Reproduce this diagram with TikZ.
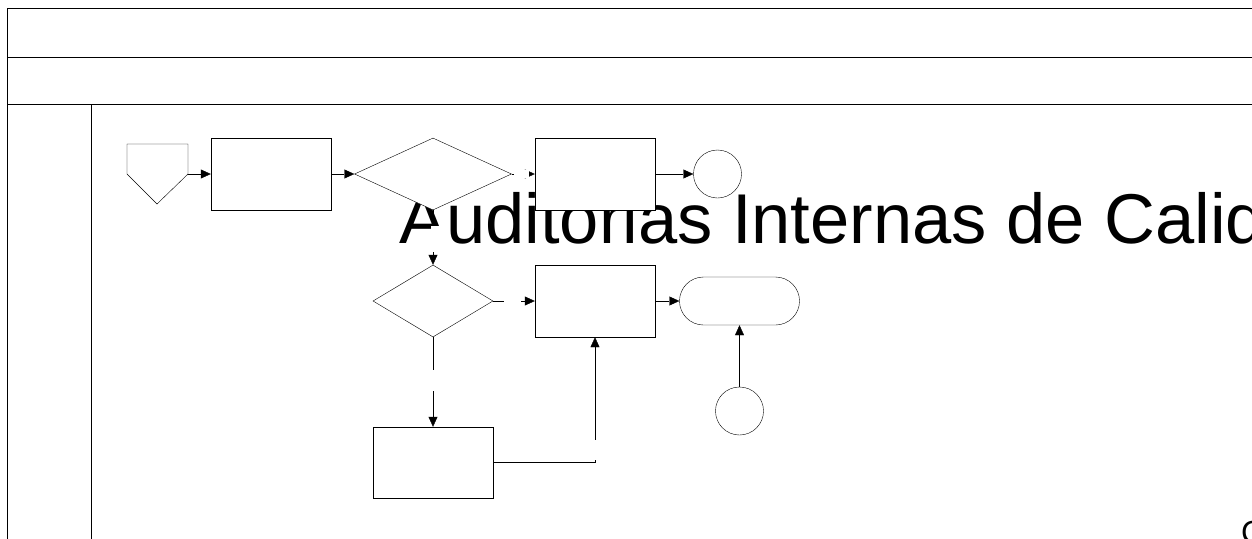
\documentclass[tikz,border=0pt]{standalone}
\usepackage{fontspec}
\setmainfont{Liberation Sans}
\usetikzlibrary{shapes.geometric,arrows.meta}
\pgfdeclarelayer{bg}
\pgfdeclarelayer{conn}
\pgfdeclarelayer{txt}
\pgfdeclarelayer{top}
\pgfsetlayers{bg,conn,txt,main,top}
\begin{document}
\begin{tikzpicture}[x=1pt,y=-1pt,line width=1.2pt,
  proc/.style={draw,fill=white,rectangle,minimum width=120pt,minimum height=72pt,inner sep=0pt},
  decision/.style={draw,fill=white,diamond,inner sep=0pt},
  conncirc/.style={draw,fill=white,circle,minimum size=48pt,inner sep=0pt},
  termin/.style={draw,fill=white,rectangle,rounded corners=24pt,minimum width=120pt,minimum height=48pt,inner sep=0pt},
  flow/.style={-{Triangle[length=10pt,width=9pt]}},
  gapbox/.style={fill=white,draw=none,inner sep=0pt},
  title/.style={font=\fontsize{70.5}{84}\selectfont,inner sep=0pt,anchor=base west}]
\clip (0,0) rectangle (1252,538);
\begin{pgfonlayer}{bg}
\fill[white] (0,0) rectangle (1252,538);
% swimlane frame
\draw (7,560) -- (7,8.5) -- (1270,8.5);
\draw (7,57) -- (1270,57);
\draw (7,104) -- (1270,104);
\draw (91,104) -- (91,560);
\end{pgfonlayer}

% off-page reference
\draw[fill=white] (127,144) -- (188,144) -- (188,174) -- (157,204) -- (127,174) -- cycle;
\coordinate (pent) at (188,174);

% flow shapes
\node[proc] (r1) at (271,174) {};
\node[decision,minimum width=157pt,minimum height=72pt] (d1) at (433,174) {};
\node[proc] (r2) at (595,174) {};
\node[conncirc] (c1) at (717.5,174) {};
\node[decision,minimum width=120pt,minimum height=72pt] (d2) at (433,301) {};
\node[proc] (r3) at (595,301) {};
\node[termin] (t1) at (739.5,301) {};
\node[conncirc] (c2) at (739.5,411) {};
\node[proc,minimum height=71pt] (r4) at (433,462.5) {};

% title
\begin{pgfonlayer}{txt}
\node[title] (ttl) at (399,243) {Auditorias Internas de Calidad};
\node[font=\fontsize{32}{38}\selectfont,inner sep=0pt,anchor=base west] (code) at (1241,543) {C};
\end{pgfonlayer}

% connectors
\begin{pgfonlayer}{conn}
\draw[flow] (pent) -- (r1.west);
\draw[flow] (r1.east) -- (d1.west);
\draw[flow] (d1.east) -- (r2.west);
\draw[flow] (r2.east) -- (c1.west);
\draw[flow] (d1.south) -- (d2.north);
\draw[flow] (d2.east) -- (r3.west);
\draw[flow] (r3.east) -- (t1.west);
\draw[flow] (c2.north) -- (t1.south);
\draw[flow] (d2.south) -- (r4.north);
\draw[flow] (r4.east) -| (r3.south);
\end{pgfonlayer}

% blank connector labels
\begin{pgfonlayer}{top}
\path (d1.east) -- (r2.west) node[gapbox,pos=0.44,minimum width=15pt,minimum height=8pt] (l1) {};
\path (d1.south) -- (d2.north) node[gapbox,pos=0.53,xshift=6pt,minimum width=16pt,minimum height=26pt] (l2) {};
\path (d2.east) -- (r3.west) node[gapbox,pos=0.47,minimum width=17pt,minimum height=8pt] (l3) {};
\path (d2.south) -- (r4.north) node[gapbox,pos=0.48,minimum width=8pt,minimum height=21pt] (l4) {};
\path (r3.south) -- (r3.south |- r4.east) node[gapbox,pos=0.9,minimum width=8pt,minimum height=20pt] (l5) {};
\end{pgfonlayer}
\end{tikzpicture}
\end{document}
